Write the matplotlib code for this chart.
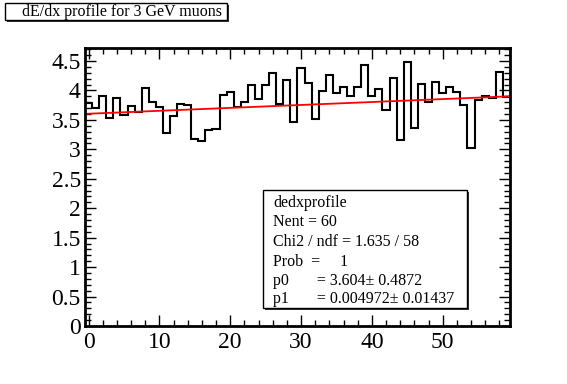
import numpy as np
import matplotlib.pyplot as plt
from matplotlib.patches import Rectangle
from matplotlib.ticker import MultipleLocator, FormatStrFormatter

# dE/dx profile values, one per bin (bins centred on 0..59)
bin_centres = np.arange(60)
dedx = [3.79, 3.70, 3.90, 3.54, 3.87, 3.58, 3.73, 3.64, 4.04, 3.80,
        3.72, 3.27, 3.56, 3.77, 3.75, 3.18, 3.14, 3.32, 3.35, 3.93,
        3.98, 3.72, 3.81, 4.09, 3.85, 4.09, 4.30, 3.77, 4.17, 3.47,
        4.38, 4.12, 3.52, 3.99, 4.26, 3.95, 4.05, 3.91, 4.06, 4.43,
        3.90, 4.02, 3.67, 4.21, 3.16, 4.48, 3.36, 4.11, 3.81, 4.15,
        3.96, 4.06, 3.98, 3.75, 3.03, 3.84, 3.90, 3.87, 4.31, 3.89]

# linear fit parameters
p0 = 3.604
p1 = 0.004972

title = 'dE/dx profile for 3 GeV muons'
stats_lines = ['dedxprofile',
               'Nent = 60',
               'Chi2 / ndf = 1.635 / 58',
               'Prob  =     1',
               'p0       = 3.604\u00b1 0.4872',
               'p1       = 0.004972\u00b1 0.01437']

W, H = 567, 384
plt.rcParams['font.family'] = ['Liberation Serif', 'DejaVu Serif']

fig = plt.figure(figsize=(W / 100, H / 100), dpi=100)


def px(x, y):
    # pixel (top-left origin) -> figure fraction
    return x / W, 1 - y / H


l, t = px(85, 48)
r, b = px(510, 326)
ax = fig.add_axes([l, b, r - l, t - b])

edges = np.append(bin_centres - 0.5, bin_centres[-1] + 0.5)
ax.stairs(dedx, edges, baseline=None, color='black', lw=1.5)

xf = np.array([edges[0], edges[-1]])
ax.plot(xf, p0 + p1 * xf, color='red', lw=1.3)

ax.set_xlim(edges[0], edges[-1])
ax.set_ylim(0, 4.72)

ax.xaxis.set_major_locator(MultipleLocator(10))
ax.xaxis.set_minor_locator(MultipleLocator(2))
ax.yaxis.set_major_locator(MultipleLocator(0.5))
ax.yaxis.set_minor_locator(MultipleLocator(0.1))
ax.yaxis.set_major_formatter(FormatStrFormatter('%g'))
ax.tick_params(which='both', direction='in', top=True, right=True,
               width=1, labelsize=17)
ax.tick_params(which='major', length=8)
ax.tick_params(which='minor', length=4)
ax.tick_params(axis='y', pad=3)
ax.tick_params(axis='x', pad=4)
for s in ax.spines.values():
    s.set_linewidth(2)


# box with a dark drop shadow (ROOT style)
def shadow_box(x0, y0, x1, y1, off=2):
    fx0, fy1 = px(x0, y0)
    fx1, fy0 = px(x1, y1)
    ox, oy = off / W, off / H
    fig.patches.append(Rectangle((fx0 + ox, fy0 - oy), fx1 - fx0, fy1 - fy0,
                                 transform=fig.transFigure, facecolor='#333333',
                                 edgecolor='none', zorder=5))
    fig.patches.append(Rectangle((fx0, fy0), fx1 - fx0, fy1 - fy0,
                                 transform=fig.transFigure, facecolor='white',
                                 edgecolor='black', lw=1, zorder=6))


shadow_box(5, 3, 227, 20)
fig.text(*px(122, 12), title, ha='center', va='center', fontsize=11.5,
         family=['Liberation Serif', 'DejaVu Serif'], zorder=7)

shadow_box(263, 190, 467, 308)
ys = [203, 222, 242, 262, 281, 299]
for line, y in zip(stats_lines, ys):
    fig.text(*px(273, y), line, ha='left', va='center', fontsize=11.5,
             family=['Liberation Serif', 'DejaVu Serif'], zorder=7)

fig.savefig('out.png', dpi=100)
